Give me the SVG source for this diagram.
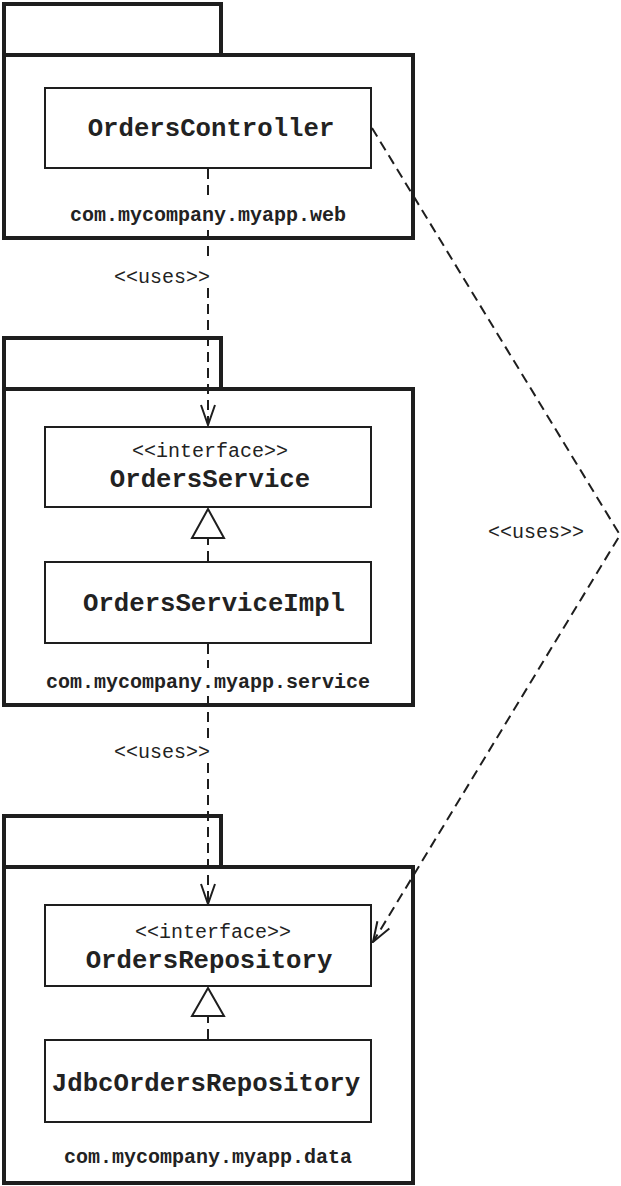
<svg xmlns="http://www.w3.org/2000/svg" width="621" height="1186" viewBox="0 0 621 1186">
<style>
.pkg{fill:none;stroke:#1e1e1e;stroke-width:4;stroke-linejoin:miter}
.cls{fill:#fff;stroke:#1e1e1e;stroke-width:2}
.name{font-family:"Liberation Mono","Courier New",monospace;font-weight:bold;font-size:25.7px;fill:#222;text-anchor:middle}
.ster{font-family:"Liberation Mono","Courier New",monospace;font-size:20px;fill:#222;text-anchor:middle}
.plbl{font-family:"Liberation Mono","Courier New",monospace;font-weight:bold;font-size:20px;fill:#222;text-anchor:middle}
.dash{fill:none;stroke:#1e1e1e;stroke-width:2;stroke-dasharray:10 6}
.tri{fill:#fff;stroke:#1e1e1e;stroke-width:2}
</style>
<defs>
<marker id="open" viewBox="0 0 22 16" refX="21" refY="8" markerWidth="22" markerHeight="16" markerUnits="userSpaceOnUse" orient="auto">
<path d="M1,1 L21,8 L1,15" fill="none" stroke="#1e1e1e" stroke-width="2"/>
</marker>
</defs>
<rect width="621" height="1186" fill="#fff"/>
<g id="pkg-web">
<rect class="pkg" x="4" y="4" width="217" height="51"/>
<rect class="pkg" x="4" y="55" width="409" height="183"/>
<text class="plbl" x="208" y="221">com.mycompany.myapp.web</text>
</g>
<g id="pkg-service">
<rect class="pkg" x="4" y="338" width="217" height="51"/>
<rect class="pkg" x="4" y="389" width="409" height="316"/>
<text class="plbl" x="208" y="688">com.mycompany.myapp.service</text>
</g>
<g id="pkg-data">
<rect class="pkg" x="4" y="816" width="217" height="51"/>
<rect class="pkg" x="4" y="867" width="409" height="316"/>
<text class="plbl" x="208" y="1163">com.mycompany.myapp.data</text>
</g>
<g id="OrdersController">
<rect class="cls" x="45" y="88" width="326" height="80"/>
<text class="name" x="211" y="136">OrdersController</text>
</g>
<g id="OrdersService">
<rect class="cls" x="45" y="427" width="326" height="80"/>
<text class="ster" x="210" y="457">&lt;&lt;interface&gt;&gt;</text>
<text class="name" x="210" y="487">OrdersService</text>
</g>
<g id="OrdersServiceImpl">
<rect class="cls" x="45" y="562" width="326" height="81"/>
<text class="name" x="214" y="611">OrdersServiceImpl</text>
</g>
<g id="OrdersRepository">
<rect class="cls" x="45" y="905" width="326" height="81"/>
<text class="ster" x="213" y="938">&lt;&lt;interface&gt;&gt;</text>
<text class="name" x="209" y="968">OrdersRepository</text>
</g>
<g id="JdbcOrdersRepository">
<rect class="cls" x="45" y="1040" width="326" height="82"/>
<text class="name" x="206" y="1091">JdbcOrdersRepository</text>
</g>
<g id="connectors">
<path class="dash" d="M208,169 V201 M208,230 V262"/>
<path class="dash" d="M208,288 V425" marker-end="url(#open)"/>
<text class="ster" x="162" y="283">&lt;&lt;uses&gt;&gt;</text>
<path class="dash" d="M208,644 V668 M208,696 V740"/>
<path class="dash" d="M208,763 V904" marker-end="url(#open)"/>
<text class="ster" x="162" y="758">&lt;&lt;uses&gt;&gt;</text>
<path class="dash" d="M372,128 L620,535 L373,942" marker-end="url(#open)"/>
<text class="ster" x="536" y="538">&lt;&lt;uses&gt;&gt;</text>
<path class="dash" d="M208,561 V539"/>
<polygon class="tri" points="208,509 224,538 192,538"/>
<path class="dash" d="M208,1039 V1017"/>
<polygon class="tri" points="208,988 224,1016 192,1016"/>
</g>
</svg>
